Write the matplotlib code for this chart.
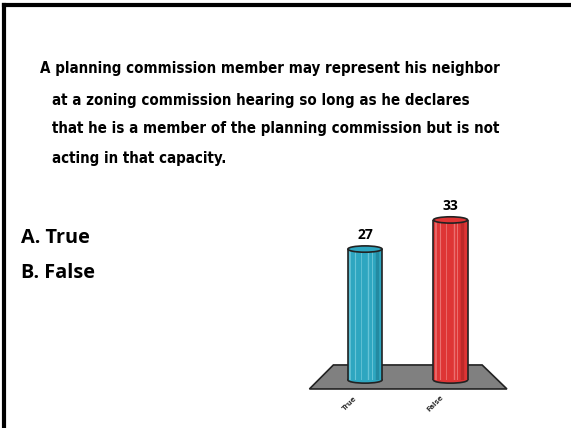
import matplotlib
matplotlib.use("Agg")
import matplotlib.pyplot as plt
from matplotlib.patches import Ellipse, Polygon
import numpy as np

# ---- data ----
categories = ["True", "False"]
values = [27, 33]
colors = ["#2ea6c0", "#de3535"]
light_colors = ["#7fd0e0", "#f08a8a"]
dark_colors = ["#1f7f95", "#b02525"]
question_lines = [
    "A planning commission member may represent his neighbor",
    "at a zoning commission hearing so long as he declares",
    "that he is a member of the planning commission but is not",
    "acting in that capacity.",
]
answers = ["A. True", "B. False"]

W, H = 571, 428
fig = plt.figure(figsize=(W / 100, H / 100), dpi=100)
fig.patch.set_facecolor("white")

fig.add_artist(plt.Line2D([4 / W, 1], [1 - 5 / H, 1 - 5 / H], color="black", lw=3))
fig.add_artist(plt.Line2D([4 / W, 4 / W], [0, 1 - 5 / H], color="black", lw=3))

qfont = dict(family=["DejaVu Sans"], stretch="condensed", weight="bold", size=10.85)
ys = [69, 100, 129, 158]
xs = [40, 52, 52, 52]
for line, x, y in zip(question_lines, xs, ys):
    fig.text(x / W, 1 - y / H, line, ha="left", va="center", **qfont)

afont = dict(family=["Open Sans", "DejaVu Sans"], weight="bold", size=14.3)
for i, a in enumerate(answers):
    fig.text(21 / W, 1 - (238 + 35 * i) / H, a, ha="left", va="center", **afont)

ax = fig.add_axes([279.5 / W, 48 / H, 256.5 / W, 194 / H])
ax.set_xlim(-1, 2)
ax.set_ylim(0, 40)
ax.axis("off")

x = np.arange(len(categories))
bw = 0.40
eh = 1.3

fl = Polygon([(-0.65, -1.85), (1.66, -1.85), (1.37, 3.1), (-0.37, 3.1)],
             closed=True, facecolor="#808080", edgecolor="#222222", lw=1.2,
             clip_on=False, zorder=1)
ax.add_patch(fl)

for xi, v, c, lc, dc, lab in zip(x, values, colors, light_colors, dark_colors, categories):
    ax.add_patch(Ellipse((xi, 0), bw, eh, facecolor=c, edgecolor="#222222", lw=1.2,
                         zorder=2, clip_on=False))
    ax.bar(xi, v, width=bw, color=c, edgecolor="none", zorder=3)
    for off, col, w in [(-0.17, lc, 1.2), (-0.12, lc, 0.8), (-0.05, lc, 0.6),
                        (0.04, lc, 1.0), (0.08, lc, 0.7), (0.14, dc, 2.5)]:
        ax.vlines(xi + off, 0, v, color=col, lw=w, alpha=0.7, zorder=4)
    ax.vlines([xi - bw / 2, xi + bw / 2], 0, v, color="#222222", lw=1.2, zorder=5)
    ax.add_patch(Ellipse((xi, v), bw, eh, facecolor=c, edgecolor="#222222", lw=1.2,
                         zorder=6, clip_on=False))
    ax.text(xi, v + 1.5, str(v), ha="center", va="bottom",
            fontsize=10, fontweight="bold", family=["Open Sans", "DejaVu Sans"])
    ax.text(xi - 0.18, -4.8, lab, ha="center", va="center", rotation=45,
            fontsize=5, fontweight="bold", color="#333333", clip_on=False)

fig.savefig("out.png", dpi=100)
